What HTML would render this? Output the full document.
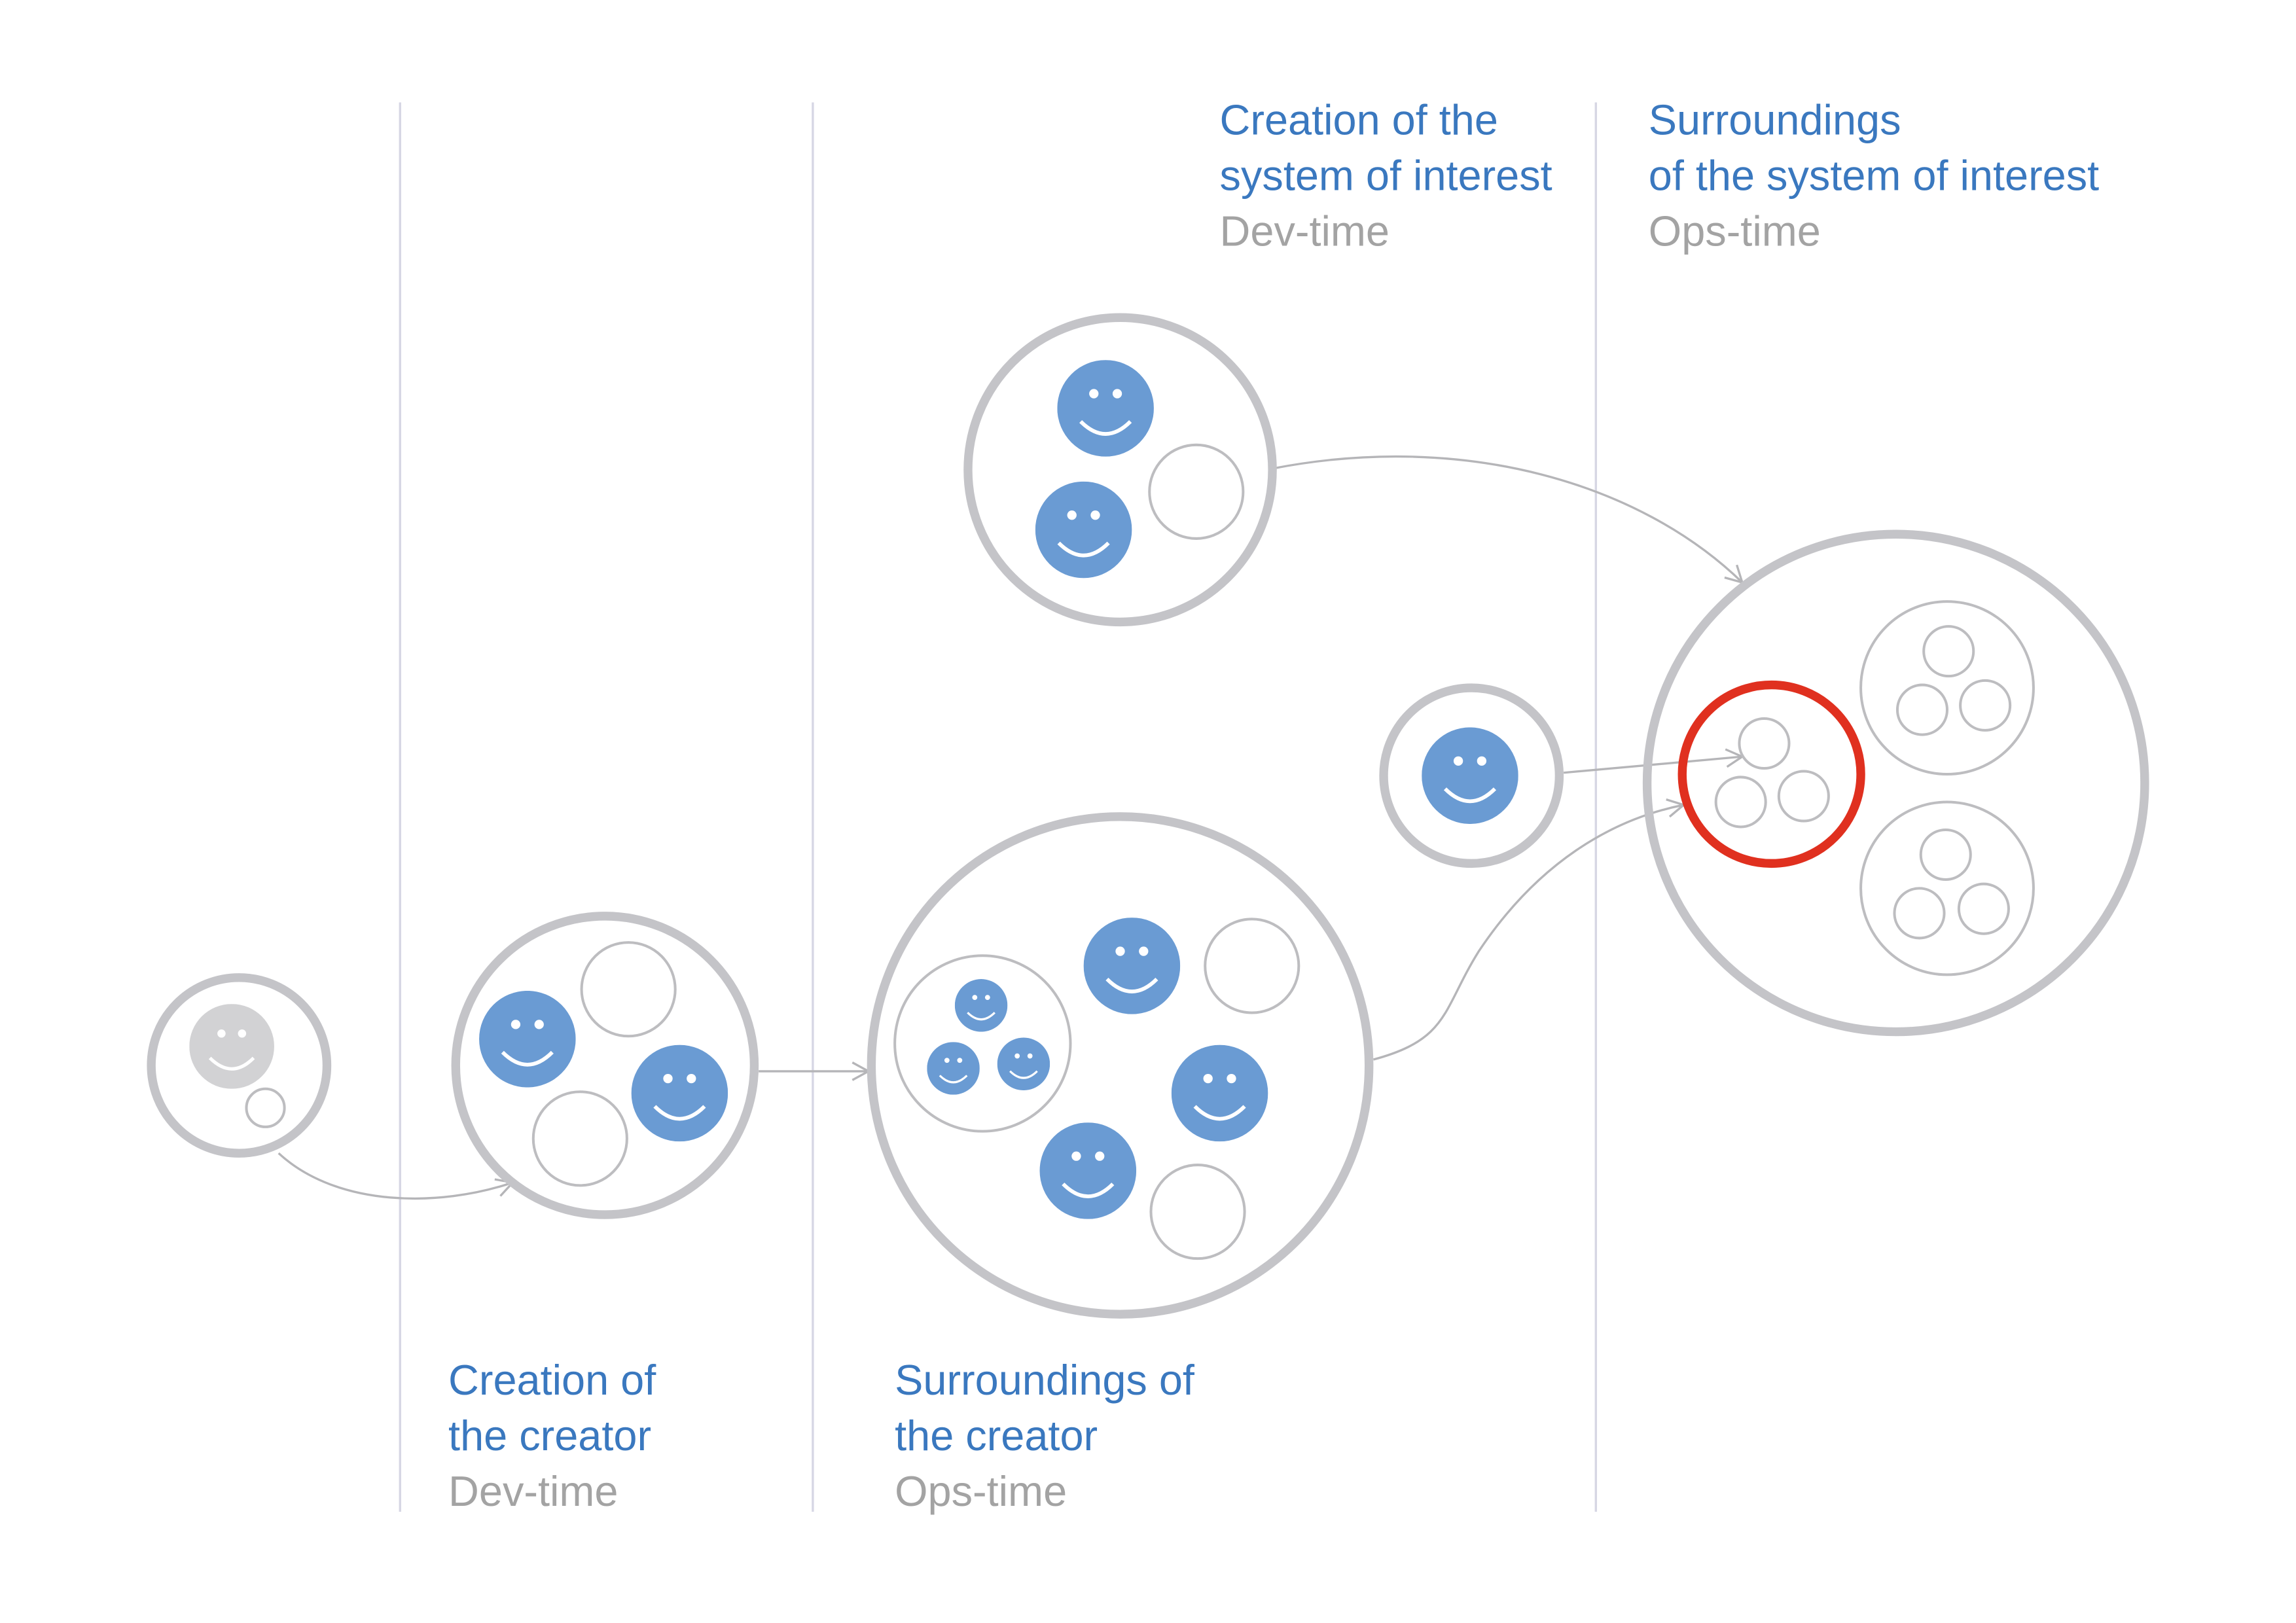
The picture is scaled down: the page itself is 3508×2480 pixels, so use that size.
<!DOCTYPE html>
<html><head><meta charset="utf-8"><style>
html,body{margin:0;padding:0;background:#fff;}
svg{display:block;}
text{font-family:"Liberation Sans",sans-serif;font-size:29px;}
.b{fill:#3a78bf}.g{fill:#a3a3a3}
</style></head><body>
<svg width="3508" height="2480" viewBox="0 0 1568 1109" xmlns="http://www.w3.org/2000/svg">
<defs>
<symbol id="s" viewBox="-33 -33 66 66">
<circle r="33" fill="#6a9bd3"/>
<circle cx="-8" cy="-10" r="3.2" fill="#fff"/><circle cx="8" cy="-10" r="3.2" fill="#fff"/>
<path d="M-17,9 Q0,26 17,9" fill="none" stroke="#fff" stroke-width="2.6"/>
</symbol>
<symbol id="sg" viewBox="-33 -33 66 66">
<circle r="33" fill="#d2d2d4"/>
<circle cx="-8" cy="-10" r="3.2" fill="#fff"/><circle cx="8" cy="-10" r="3.2" fill="#fff"/>
<path d="M-17,9 Q0,26 17,9" fill="none" stroke="#fff" stroke-width="2.6"/>
</symbol>
<marker id="a" markerWidth="14" markerHeight="14" refX="12" refY="7" orient="auto" markerUnits="userSpaceOnUse">
<path d="M1,1 L12,7 L1,13" fill="none" stroke="#b5b5b8" stroke-width="1.5"/>
</marker>
</defs>
<g stroke="#d6d6e4" stroke-width="1.5">
<line x1="273" y1="70" x2="273" y2="1033"/><line x1="555" y1="70" x2="555" y2="1033"/><line x1="1090" y1="70" x2="1090" y2="1033"/>
</g>
<text x="833" y="92" class="b">Creation of the</text>
<text x="833" y="130" class="b">system of interest</text>
<text x="833" y="168" class="g">Dev-time</text>
<text x="1126" y="92" class="b">Surroundings</text>
<text x="1126" y="130" class="b">of the system of interest</text>
<text x="1126" y="168" class="g">Ops-time</text>
<text x="306" y="953" class="b">Creation of</text>
<text x="306" y="991" class="b">the creator</text>
<text x="306" y="1029" class="g">Dev-time</text>
<text x="611" y="953" class="b">Surroundings of</text>
<text x="611" y="991" class="b">the creator</text>
<text x="611" y="1029" class="g">Ops-time</text>

<g fill="none" stroke="#b5b5b8" stroke-width="1.5">
<path d="M190,788 C230,825 300,825 350,808" marker-end="url(#a)"/>
<path d="M518,732 L593,732" marker-end="url(#a)"/>
<path d="M870,320 C1000,295 1120,330 1190,398" marker-end="url(#a)"/>
<path d="M1068,528 L1190,517" marker-end="url(#a)"/>
<path d="M938,724 C990,710 985,690 1010,650 C1050,590 1100,560 1150,550" marker-end="url(#a)"/>
</g>

<g fill="none" stroke="#c4c4c8" stroke-width="6">
<circle cx="163" cy="728" r="60"/>
<circle cx="413" cy="728" r="102"/>
<circle cx="765" cy="728" r="170"/>
<circle cx="765" cy="321" r="104"/>
<circle cx="1005" cy="530" r="60"/>
<circle cx="1295" cy="535" r="170"/>
</g>
<g fill="#fff" stroke="#bdbdc0" stroke-width="1.8">
<circle cx="181" cy="757" r="13"/>
<circle cx="429" cy="676" r="32"/><circle cx="396" cy="778" r="32"/>
<circle cx="671" cy="713" r="60"/>
<circle cx="855" cy="660" r="32"/><circle cx="818" cy="828" r="32"/>
<circle cx="817" cy="336" r="32"/>
<circle cx="1205" cy="508" r="17"/><circle cx="1189" cy="548" r="17"/><circle cx="1232" cy="544" r="17"/>
<circle cx="1330" cy="470" r="59"/>
<circle cx="1331" cy="445" r="17"/><circle cx="1313" cy="485" r="17"/><circle cx="1356" cy="482" r="17"/>
<circle cx="1330" cy="607" r="59"/>
<circle cx="1329" cy="584" r="17"/><circle cx="1311" cy="624" r="17"/><circle cx="1355" cy="621" r="17"/>
</g>
<circle cx="1210" cy="529" r="61" fill="none" stroke="#e0301f" stroke-width="6"/>

<use href="#sg" x="129" y="686" width="58" height="58"/>
<use href="#s" x="327" y="677" width="66" height="66"/>
<use href="#s" x="431" y="714" width="66" height="66"/>
<use href="#s" x="652" y="669" width="36" height="36"/>
<use href="#s" x="633" y="712" width="36" height="36"/>
<use href="#s" x="681" y="709" width="36" height="36"/>
<use href="#s" x="740" y="627" width="66" height="66"/>
<use href="#s" x="800" y="714" width="66" height="66"/>
<use href="#s" x="710" y="767" width="66" height="66"/>
<use href="#s" x="722" y="246" width="66" height="66"/>
<use href="#s" x="707" y="329" width="66" height="66"/>
<use href="#s" x="971" y="497" width="66" height="66"/>
</svg>
</body></html>
